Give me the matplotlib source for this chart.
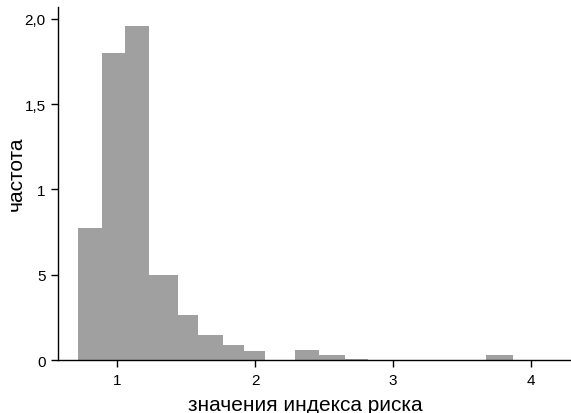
import matplotlib
matplotlib.use("Agg")
import matplotlib.pyplot as plt
import numpy as np

# histogram of risk-index values (bin edges and bar heights)
bin_edges = [0.715, 0.89, 1.06, 1.23, 1.44, 1.585, 1.77, 1.92, 2.07,
             2.29, 2.46, 2.65, 2.82, 3.675, 3.865]
heights = [0.775, 1.80, 1.955, 0.50, 0.265, 0.147, 0.088, 0.055, 0.0,
           0.059, 0.03, 0.005, 0.0, 0.03]

x_ticks = [1, 2, 3, 4]
x_labels = ["1", "2", "3", "4"]
y_ticks = [0, 0.5, 1.0, 1.5, 2.0]
y_labels = ["0", "5", "1", "1,5", "2,0"]

plt.rcParams["font.family"] = ["Liberation Sans", "DejaVu Sans"]

fig = plt.figure(figsize=(5.71, 4.14), dpi=100)
ax = fig.add_axes([0.1016, 0.128, 0.8964, 0.853])

edges = np.array(bin_edges)
ax.bar(edges[:-1], heights, width=np.diff(edges), align="edge",
       color="#a0a0a0", edgecolor="none", linewidth=0)

ax.set_xlim(0.572, 4.28)
ax.set_ylim(0, 2.07)

for side in ("top", "right"):
    ax.spines[side].set_visible(False)
for side in ("left", "bottom"):
    ax.spines[side].set_linewidth(1.0)
    ax.spines[side].set_color("black")

ax.set_xticks(x_ticks)
ax.set_xticklabels(x_labels)
ax.set_yticks(y_ticks)
ax.set_yticklabels(y_labels)
ax.tick_params(direction="out", length=5, width=1, labelsize=11, pad=4)

ax.set_xlabel("значения индекса риска", fontsize=15, va="center", ha="center")
ax.xaxis.set_label_coords(0.484, -0.125)
ax.set_ylabel("частота", fontsize=15, va="center", ha="center")
ax.yaxis.set_label_coords(-0.082, 0.53)

fig.savefig("out.png", dpi=100, facecolor="white")
